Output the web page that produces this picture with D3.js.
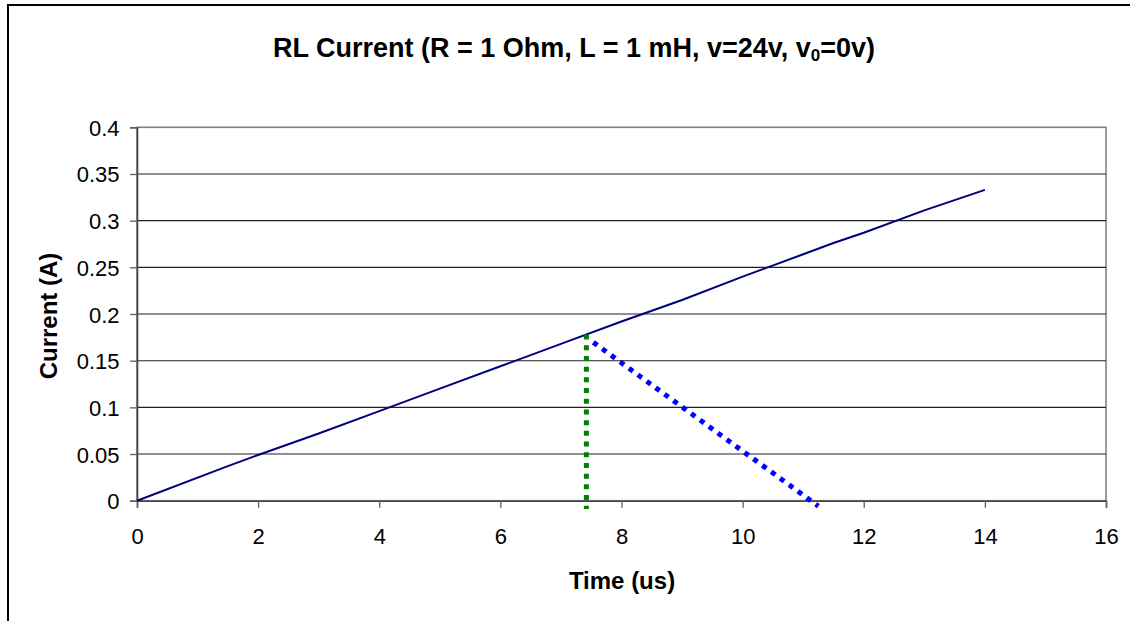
<!DOCTYPE html>
<html>
<head>
<meta charset="utf-8">
<script src="https://cdn.jsdelivr.net/npm/d3@7"></script>
<style>
  html, body { margin: 0; padding: 0; background: #fff; }
  svg { display: block; }
  text { font-family: "Liberation Sans", Arial, sans-serif; fill: #000; }
</style>
</head>
<body>
<svg id="chart" width="1130" height="621"></svg>
<script>
// ---- data ----
const timeUs = [0, 1.5, 2, 3, 4, 5, 6, 7, 8, 9, 10, 11, 11.5, 12, 13, 14];
const currentA = [0, 0.037, 0.049, 0.072, 0.096, 0.12, 0.144, 0.168, 0.192, 0.215, 0.24, 0.264, 0.276, 0.287, 0.311, 0.333];
const greenX = [7.42, 7.42];
const greenY = [0.178, -0.009];
const blueX = [7.535, 11.25];
const blueY = [0.1696, -0.0058];
const xTicks = [0, 2, 4, 6, 8, 10, 12, 14, 16];
const yTicks = [0, 0.05, 0.1, 0.15, 0.2, 0.25, 0.3, 0.35, 0.4];
const titleMain = "RL Current (R = 1 Ohm, L = 1 mH, v=24v, v";
const titleSub = "0";
const titleEnd = "=0v)";
const xTitle = "Time (us)";
const yTitle = "Current (A)";

// ---- layout ----
const svg = d3.select("#chart");
const L = 137, R = 1106, T = 127.3, B = 500.7;
const x = d3.scaleLinear().domain([0, 16]).range([L, R]);
const y = d3.scaleLinear().domain([0, 0.4]).range([B, T]);

// outer chart frame
svg.append("rect").attr("x", 8).attr("y", 5).attr("width", 1200).attr("height", 700)
  .attr("fill", "#fff").attr("stroke", "#000").attr("stroke-width", 2);

// plot area
svg.append("rect").attr("x", L).attr("y", T).attr("width", R - L).attr("height", B - T)
  .attr("fill", "#fff").attr("stroke", "#808080").attr("stroke-width", 1.6);

// gridlines
svg.append("g").selectAll("line").data(yTicks.filter(d => d > 0 && d < 0.4)).join("line")
  .attr("x1", L).attr("x2", R).attr("y1", d => y(d)).attr("y2", d => y(d))
  .attr("stroke", "#222").attr("stroke-width", 1.1);

// axes
const xAxis = d3.axisBottom(x).tickValues(xTicks).tickSize(7).tickPadding(8).tickFormat(d3.format("d"));
const gx = svg.append("g").attr("transform", `translate(0,${B})`).call(xAxis);
gx.select(".domain").attr("stroke", "#444").attr("stroke-width", 1.6);
gx.selectAll(".tick line").attr("stroke", "#666").attr("stroke-width", 1.4);
gx.selectAll(".tick text").attr("font-size", 22).attr("font-family", "Liberation Sans, Arial, sans-serif")
  .attr("y", 0).attr("dy", 0).attr("transform", "translate(0,43.6)");

const yAxis = d3.axisLeft(y).tickValues(yTicks).tickSize(7).tickPadding(10).tickFormat(d => String(+d.toFixed(2)));
const gy = svg.append("g").attr("transform", `translate(${L},0)`).call(yAxis);
gy.select(".domain").attr("stroke", "#444").attr("stroke-width", 1.6);
gy.selectAll(".tick line").attr("stroke", "#666").attr("stroke-width", 1.4);
gy.selectAll(".tick text").attr("font-size", 22).attr("font-family", "Liberation Sans, Arial, sans-serif")
  .attr("x", -17.5).attr("dy", 0).attr("y", 8);

// current line
const pts = timeUs.map((t, i) => [t, currentA[i]]);
svg.append("path").datum(pts)
  .attr("d", d3.line().x(d => x(d[0])).y(d => y(d[1])))
  .attr("fill", "none").attr("stroke", "#000080").attr("stroke-width", 2);

// green dotted vertical
const gpts = greenX.map((t, i) => [t, greenY[i]]);
svg.append("path").datum(gpts)
  .attr("d", d3.line().x(d => x(d[0])).y(d => y(d[1])))
  .attr("fill", "none").attr("stroke", "#008000").attr("stroke-width", 5)
  .attr("stroke-dasharray", "5,5.7");

// blue dotted diagonal
const bpts = blueX.map((t, i) => [t, blueY[i]]);
svg.append("path").datum(bpts)
  .attr("d", d3.line().x(d => x(d[0])).y(d => y(d[1])))
  .attr("fill", "none").attr("stroke", "#0000ff").attr("stroke-width", 5)
  .attr("stroke-dasharray", "5,6");

// title
const title = svg.append("text").attr("x", 574).attr("y", 57).attr("text-anchor", "middle")
  .attr("font-size", 27).attr("font-weight", "bold");
title.append("tspan").text(titleMain);
title.append("tspan").attr("font-size", 17).attr("dy", 4).text(titleSub);
title.append("tspan").attr("dy", -4).text(titleEnd);

// axis titles
svg.append("text").attr("x", 622).attr("y", 589).attr("text-anchor", "middle")
  .attr("font-size", 24).attr("font-weight", "bold").text(xTitle);
svg.append("text").attr("transform", "translate(57,316) rotate(-90)").attr("text-anchor", "middle")
  .attr("font-size", 24).attr("font-weight", "bold").text(yTitle);
</script>
</body>
</html>
